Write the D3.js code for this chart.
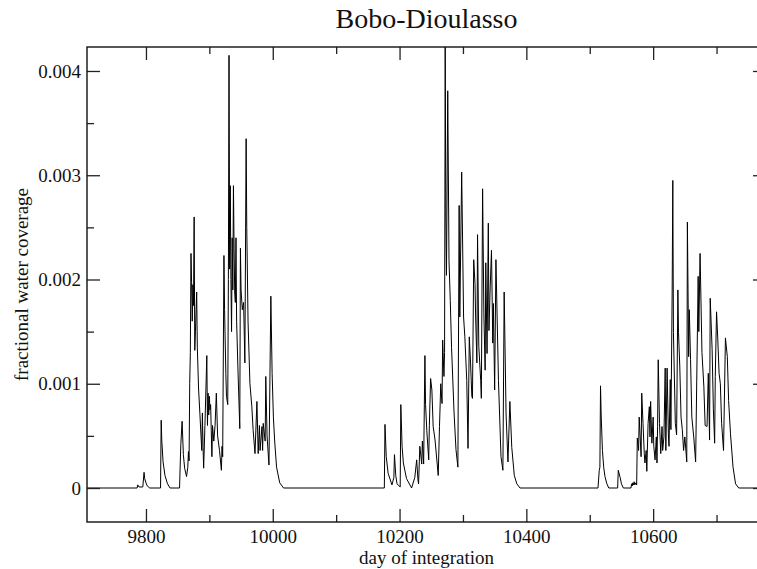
<!DOCTYPE html>
<html>
<head>
<meta charset="utf-8">
<script src="https://cdn.jsdelivr.net/npm/d3@7"></script>
<style>
  html, body { margin: 0; padding: 0; background: #fff; }
  svg { display: block; }
  text { font-family: "Liberation Serif", "Times New Roman", serif; fill: #111; }
</style>
</head>
<body>
<svg id="chart" width="757" height="569"></svg>
<script>
// ---- data ----
const chartTitle = "Bobo-Dioulasso";
const xTitle = "day of integration";
const yTitle = "fractional water coverage";

const xMajorTicks = [9800, 10000, 10200, 10400, 10600];
const xTickLabels = ["9800", "10000", "10200", "10400", "10600"];
const xMinorTicks = [9900, 10100, 10300, 10500, 10700];
const yMajorTicks = [0, 0.001, 0.002, 0.003, 0.004];
const yTickLabels = ["0", "0.001", "0.002", "0.003", "0.004"];
const yMinorTicks = [0.0005, 0.0015, 0.0025, 0.0035];

const xDomain = [9707, 10778];
const yDomain = [-0.000326, 0.00423];

// day of integration
const days = [
  9707, 9786, 9787, 9789, 9795, 9797, 9798, 9800, 9802, 9806,
  9823, 9824, 9825, 9827, 9830, 9834, 9838,
  9853, 9854, 9855, 9857, 9859, 9861, 9864, 9866, 9867, 9868, 9869, 9870, 9871, 9872, 9873, 9874, 9875, 9876, 9877, 9878, 9880, 9881, 9883, 9885, 9888, 9889, 9890, 9891,
  9893, 9896, 9897, 9898, 9899, 9900, 9901, 9902, 9903, 9904, 9905, 9907, 9909, 9911, 9913, 9916, 9919, 9920, 9921, 9923, 9924, 9926, 9927, 9929, 9930, 9931, 9932, 9933, 9934, 9935, 9936, 9937, 9938, 9939, 9940, 9941, 9942, 9943, 9945, 9948, 9949, 9950, 9952, 9954, 9956, 9958, 9959, 9961, 9964, 9967, 9969, 9972, 9975, 9977, 9979, 9980, 9983, 9984, 9985, 9988, 9989, 9991, 9994, 9997, 9999, 10001, 10003, 10006, 10011, 10017,
  10176, 10177, 10179, 10182, 10188, 10191, 10192, 10194, 10196, 10201, 10202, 10204, 10206, 10211, 10219, 10224, 10227, 10229, 10230, 10232, 10235, 10236, 10238, 10240, 10241, 10243, 10246, 10247, 10249, 10251, 10253, 10256, 10261, 10263, 10265, 10267, 10268, 10270, 10271, 10272, 10273, 10274, 10276, 10278, 10280, 10282, 10286, 10289, 10292, 10294, 10295, 10298, 10301, 10303, 10306, 10308, 10310, 10312, 10314, 10315, 10317, 10319, 10320, 10322, 10323, 10325, 10328, 10329, 10331, 10333, 10335, 10336, 10338, 10340, 10341, 10343, 10345, 10347, 10348, 10350, 10352, 10356, 10360, 10363, 10365, 10368, 10371, 10374, 10377, 10381, 10385, 10390,
  10513, 10515, 10516, 10517, 10518, 10520, 10522, 10524, 10527, 10530, 10544, 10545, 10548, 10550, 10553, 10565, 10566, 10567, 10568, 10569, 10570, 10571, 10573, 10574, 10575, 10577, 10578, 10581, 10582, 10584, 10586, 10587, 10589, 10590, 10592, 10594, 10595, 10596, 10598, 10600, 10601, 10603, 10605, 10606, 10607, 10608, 10610, 10612, 10614, 10615, 10617, 10619, 10620, 10622, 10624, 10625, 10627, 10628, 10630, 10631, 10632, 10635, 10637, 10639, 10640, 10642, 10644, 10646, 10648, 10650, 10653, 10654, 10656, 10657, 10659, 10661, 10664, 10667, 10671, 10672, 10674, 10677, 10680, 10682, 10685, 10687, 10689, 10690, 10693, 10695, 10697, 10698, 10700, 10702, 10704, 10706, 10708, 10711, 10714, 10717, 10719, 10722, 10726, 10730, 10735, 10778
];

// fractional water coverage, in units of 0.001
const coverageMilli = [
  0, 0, 0.03, 0.01, 0.01, 0.15, 0.09, 0.05, 0.02, 0,
  0, 0.65, 0.45, 0.25, 0.12, 0.04, 0,
  0, 0.22, 0.42, 0.64, 0.32, 0.19, 0.11, 0.2, 0.35, 0.26, 1.0, 1.3, 2.25, 1.97, 1.6, 1.95, 1.75, 2.6, 1.32, 1.5, 1.88, 1.35, 0.95, 0.72, 0.36, 0.72, 0.4, 0.19,
  0.6, 1.27, 0.6, 0.91, 0.7, 0.88, 0.75, 0.8, 0.55, 0.3, 0.6, 0.45, 0.6, 0.91, 0.5, 0.36, 0.17, 0.4, 0.3, 2.23, 1.71, 1.1, 0.88, 0.8, 2.0, 4.15, 2.1, 2.9, 2.0, 1.5, 2.4, 1.9, 2.9, 2.3, 1.87, 1.78, 2.4, 1.6, 1.16, 0.57, 2.3, 1.9, 1.71, 1.78, 1.2, 3.35, 2.5, 1.6, 1.0, 0.78, 0.56, 0.33, 0.83, 0.33, 0.6, 0.36, 0.59, 0.36, 0.62, 0.45, 1.07, 0.5, 0.22, 1.84, 1.1, 0.68, 0.45, 0.2, 0.05, 0,
  0, 0.61, 0.3, 0.14, 0.03, 0.1, 0.32, 0.12, 0.04, 0.01, 0.8, 0.4, 0.24, 0.09, 0, 0.1, 0.27, 0.08, 0.04, 0.4, 0.23, 0.45, 0.23, 1.27, 0.8, 0.55, 0.27, 0.6, 1.05, 0.94, 0.59, 0.46, 0.12, 0.59, 1.0, 0.81, 1.42, 1.07, 1.3, 4.23, 2.6, 2.04, 3.81, 2.18, 1.8, 1.35, 0.72, 0.37, 0.2, 2.71, 1.64, 3.03, 1.64, 1.45, 1.03, 0.38, 1.45, 1.2, 0.88, 0.86, 2.19, 1.96, 1.64, 1.2, 2.43, 1.36, 1.03, 0.86, 2.87, 1.67, 1.13, 2.16, 1.29, 2.54, 1.51, 1.93, 2.28, 1.39, 1.77, 0.94, 2.19, 1.03, 0.3, 0.17, 1.88, 0.71, 0.25, 0.83, 0.39, 0.12, 0.04, 0,
  0, 0.17, 0.2, 0.98, 0.7, 0.36, 0.2, 0.11, 0.04, 0, 0, 0.17, 0.1, 0.04, 0, 0, 0.04, 0.02, 0.05, 0.03, 0.06, 0.03, 0.05, 0.03, 0.48, 0.36, 0.68, 0.3, 0.91, 0.62, 0.33, 0.24, 0.36, 0.16, 0.62, 0.78, 0.49, 0.83, 0.43, 0.68, 0.4, 0.27, 0.49, 0.24, 0.59, 1.23, 0.62, 0.33, 0.59, 0.36, 0.49, 1.15, 0.36, 1.15, 0.52, 0.4, 1.04, 0.56, 1.88, 2.95, 1.49, 0.62, 0.51, 1.9, 1.49, 1.17, 0.68, 0.56, 0.36, 0.49, 0.25, 2.55, 1.26, 1.71, 1.23, 0.68, 0.49, 0.25, 2.03, 1.5, 2.25, 1.3, 0.97, 0.6, 0.59, 1.1, 0.46, 1.82, 1.33, 0.75, 0.43, 1.07, 1.69, 1.42, 1.1, 1.0, 0.62, 0.36, 1.44, 1.26, 0.84, 0.52, 0.2, 0.04, 0, 0
];

// ---- drawing ----
const plot = { left: 87, right: 766, top: 47, bottom: 522 };
const svg = d3.select("#chart");

const x = d3.scaleLinear().domain(xDomain).range([plot.left, plot.right]);
const y = d3.scaleLinear().domain(yDomain).range([plot.bottom, plot.top]);

const points = days.map((d, i) => ({ day: d, value: coverageMilli[i] / 1000 }));

svg.append("defs").append("clipPath").attr("id", "plotClip")
  .append("rect")
  .attr("x", plot.left).attr("y", plot.top)
  .attr("width", plot.right - plot.left).attr("height", plot.bottom - plot.top);

// data line
const line = d3.line().x(d => x(d.day)).y(d => y(d.value));
svg.append("path")
  .datum(points)
  .attr("clip-path", "url(#plotClip)")
  .attr("fill", "none")
  .attr("stroke", "#000")
  .attr("stroke-width", 1)
  .attr("d", line);

const tickColor = "#222";
const MAJ = 13, MIN = 7;

function styleAxis(g) {
  g.select(".domain").remove();
  g.selectAll(".tick line").attr("stroke", tickColor).attr("stroke-width", 1.3);
  g.selectAll(".tick text")
    .style("font-family", '"Liberation Serif", "Times New Roman", serif')
    .style("font-size", "19px")
    .attr("fill", "#111");
}

// bottom axis (labels)
svg.append("g").attr("transform", `translate(0,${plot.bottom})`)
  .call(d3.axisBottom(x).tickValues(xMajorTicks).tickSize(-MAJ).tickSizeOuter(0).tickPadding(8)
    .tickFormat((d, i) => xTickLabels[i]))
  .call(styleAxis);
svg.append("g").attr("transform", `translate(0,${plot.bottom})`)
  .call(d3.axisBottom(x).tickValues(xMinorTicks).tickSize(-MIN).tickSizeOuter(0).tickFormat(""))
  .call(styleAxis);
// top axis (mirror ticks)
svg.append("g").attr("transform", `translate(0,${plot.top})`)
  .call(d3.axisTop(x).tickValues(xMajorTicks).tickSize(-MAJ).tickSizeOuter(0).tickFormat(""))
  .call(styleAxis);
svg.append("g").attr("transform", `translate(0,${plot.top})`)
  .call(d3.axisTop(x).tickValues(xMinorTicks).tickSize(-MIN).tickSizeOuter(0).tickFormat(""))
  .call(styleAxis);
// left axis (labels)
svg.append("g").attr("transform", `translate(${plot.left},0)`)
  .call(d3.axisLeft(y).tickValues(yMajorTicks).tickSize(-MAJ).tickSizeOuter(0).tickPadding(6)
    .tickFormat((d, i) => yTickLabels[i]))
  .call(styleAxis);
svg.append("g").attr("transform", `translate(${plot.left},0)`)
  .call(d3.axisLeft(y).tickValues(yMinorTicks).tickSize(-MIN).tickSizeOuter(0).tickFormat(""))
  .call(styleAxis);
// right axis (mirror ticks)
svg.append("g").attr("transform", `translate(${plot.right},0)`)
  .call(d3.axisRight(y).tickValues(yMajorTicks).tickSize(-MAJ).tickSizeOuter(0).tickFormat(""))
  .call(styleAxis);
svg.append("g").attr("transform", `translate(${plot.right},0)`)
  .call(d3.axisRight(y).tickValues(yMinorTicks).tickSize(-MIN).tickSizeOuter(0).tickFormat(""))
  .call(styleAxis);

// frame
svg.append("rect")
  .attr("x", plot.left).attr("y", plot.top)
  .attr("width", plot.right - plot.left).attr("height", plot.bottom - plot.top)
  .attr("fill", "none").attr("stroke", "#111").attr("stroke-width", 1.4);

// titles
const cx = (plot.left + plot.right) / 2;
svg.append("text")
  .attr("x", cx).attr("y", 28)
  .attr("text-anchor", "middle")
  .style("font-size", "28px")
  .text(chartTitle);
svg.append("text")
  .attr("x", cx).attr("y", 564)
  .attr("text-anchor", "middle")
  .style("font-size", "19px")
  .text(xTitle);
svg.append("text")
  .attr("transform", `translate(28,${(plot.top + plot.bottom) / 2}) rotate(-90)`)
  .attr("text-anchor", "middle")
  .style("font-size", "19px")
  .text(yTitle);
</script>
</body>
</html>
